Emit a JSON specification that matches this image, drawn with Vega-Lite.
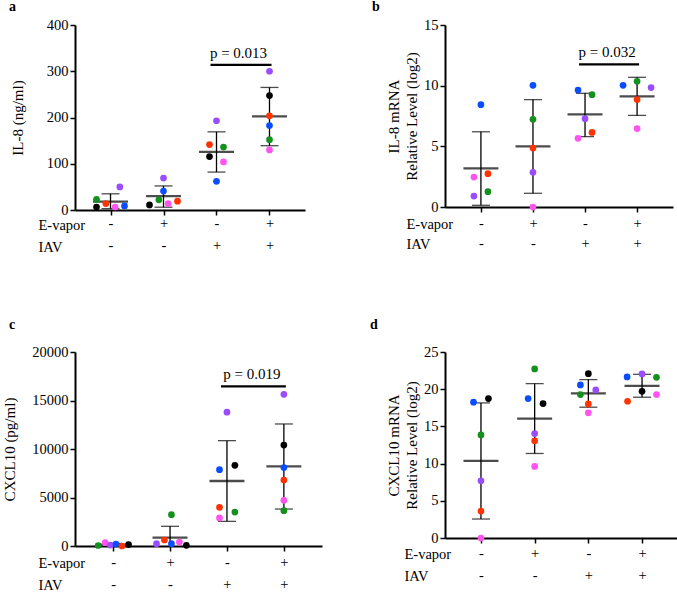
{
  "$schema": "https://vega.github.io/schema/vega-lite/v6.json",
  "padding": {"left": 2, "top": 0, "right": 0, "bottom": 0},
  "background": "white",
  "config": {
    "font": "Liberation Serif",
    "view": {"stroke": null},
    "text": {"font": "Liberation Serif"},
    "axis": {"domainColor": "#000", "domainWidth": 2, "tickColor": "#000", "tickWidth": 1.5, "tickSize": 5, "labelColor": "#000", "titleColor": "#000", "labelFont": "Liberation Serif", "titleFont": "Liberation Serif", "labelFontSize": 14.5, "titleFontSize": 15, "titleFontWeight": "normal", "grid": false, "labelPadding": 2},
    "title": {"font": "Liberation Serif", "fontSize": 14, "fontWeight": "bold", "anchor": "start", "frame": "group", "color": "#000"}
  },
  "datasets": {
    "a_pts": [
      {"g": "-|-", "donor": "black", "v": 6.5, "lane": -3}, {"g": "-|-", "donor": "green", "v": 23, "lane": -3}, {"g": "-|-", "donor": "red", "v": 14, "lane": -1}, {"g": "-|-", "donor": "pink", "v": 6.5, "lane": 1}, {"g": "-|-", "donor": "purple", "v": 50, "lane": 2}, {"g": "-|-", "donor": "blue", "v": 8.7, "lane": 3},
      {"g": "+|-", "donor": "purple", "v": 69, "lane": 0}, {"g": "+|-", "donor": "blue", "v": 41, "lane": 0}, {"g": "+|-", "donor": "green", "v": 22, "lane": -1}, {"g": "+|-", "donor": "pink", "v": 14, "lane": 1}, {"g": "+|-", "donor": "red", "v": 19, "lane": 3}, {"g": "+|-", "donor": "black", "v": 11, "lane": -3},
      {"g": "-|+", "donor": "purple", "v": 193, "lane": 0}, {"g": "-|+", "donor": "red", "v": 141.5, "lane": -1.5}, {"g": "-|+", "donor": "green", "v": 136, "lane": 1.5}, {"g": "-|+", "donor": "black", "v": 115.5, "lane": -1.5}, {"g": "-|+", "donor": "pink", "v": 104, "lane": 1.5}, {"g": "-|+", "donor": "blue", "v": 62, "lane": 0},
      {"g": "+|+", "donor": "purple", "v": 300, "lane": 0}, {"g": "+|+", "donor": "black", "v": 247.6, "lane": 0}, {"g": "+|+", "donor": "red", "v": 203.6, "lane": 0}, {"g": "+|+", "donor": "blue", "v": 182.7, "lane": 0}, {"g": "+|+", "donor": "green", "v": 152, "lane": 0}, {"g": "+|+", "donor": "pink", "v": 130, "lane": 0}
    ],
    "a_stats": [
      {"g": "-|-", "mean": 18, "lo": 3, "hi": 35}, {"g": "+|-", "mean": 30, "lo": 6, "hi": 52}, {"g": "-|+", "mean": 125.5, "lo": 82, "hi": 169}, {"g": "+|+", "mean": 202.5, "lo": 139, "hi": 265}
    ],
    "a_sig": [{"g": "-|+", "g2": "+|+", "y": 314, "label": "p = 0.013"}],
    "b_pts": [
      {"g": "-|-", "donor": "blue", "v": 8.43, "lane": 0}, {"g": "-|-", "donor": "red", "v": 2.75, "lane": 1.5}, {"g": "-|-", "donor": "pink", "v": 2.47, "lane": -1.5}, {"g": "-|-", "donor": "green", "v": 1.26, "lane": 1.5}, {"g": "-|-", "donor": "purple", "v": 0.9, "lane": -1.5},
      {"g": "+|-", "donor": "blue", "v": 10.03, "lane": 0}, {"g": "+|-", "donor": "green", "v": 7.23, "lane": 0}, {"g": "+|-", "donor": "red", "v": 4.86, "lane": 0}, {"g": "+|-", "donor": "purple", "v": 2.86, "lane": 0}, {"g": "+|-", "donor": "pink", "v": 0, "lane": 0},
      {"g": "-|+", "donor": "blue", "v": 9.64, "lane": -1.5}, {"g": "-|+", "donor": "green", "v": 9.26, "lane": 1.5}, {"g": "-|+", "donor": "purple", "v": 7.28, "lane": 0}, {"g": "-|+", "donor": "red", "v": 6.15, "lane": 1.5}, {"g": "-|+", "donor": "pink", "v": 5.66, "lane": -1.5},
      {"g": "+|+", "donor": "blue", "v": 10.03, "lane": -3}, {"g": "+|+", "donor": "green", "v": 10.36, "lane": 0}, {"g": "+|+", "donor": "purple", "v": 9.84, "lane": 3}, {"g": "+|+", "donor": "red", "v": 8.85, "lane": 0}, {"g": "+|+", "donor": "pink", "v": 6.46, "lane": 0}
    ],
    "b_stats": [
      {"g": "-|-", "mean": 3.19, "lo": 0.14, "hi": 6.2}, {"g": "+|-", "mean": 5.0, "lo": 1.13, "hi": 8.85}, {"g": "-|+", "mean": 7.64, "lo": 5.8, "hi": 9.37}, {"g": "+|+", "mean": 9.12, "lo": 7.55, "hi": 10.69}
    ],
    "b_sig": [{"g": "-|+", "g2": "+|+", "y": 11.76, "label": "p = 0.032"}],
    "c_pts": [
      {"g": "-|-", "donor": "green", "v": 50, "lane": -3.2}, {"g": "-|-", "donor": "pink", "v": 340, "lane": -1.7}, {"g": "-|-", "donor": "purple", "v": 100, "lane": -0.6}, {"g": "-|-", "donor": "blue", "v": 200, "lane": 0.6}, {"g": "-|-", "donor": "red", "v": 0, "lane": 1.9}, {"g": "-|-", "donor": "black", "v": 150, "lane": 3.3},
      {"g": "+|-", "donor": "green", "v": 3230, "lane": 0.3}, {"g": "+|-", "donor": "red", "v": 620, "lane": -1.2}, {"g": "+|-", "donor": "purple", "v": 240, "lane": -2.9}, {"g": "+|-", "donor": "blue", "v": 240, "lane": 0.3}, {"g": "+|-", "donor": "pink", "v": 410, "lane": 2}, {"g": "+|-", "donor": "black", "v": 70, "lane": 3.5},
      {"g": "-|+", "donor": "purple", "v": 13800, "lane": 0}, {"g": "-|+", "donor": "black", "v": 8320, "lane": 1.7}, {"g": "-|+", "donor": "blue", "v": 7870, "lane": -1.6}, {"g": "-|+", "donor": "red", "v": 3990, "lane": -1.6}, {"g": "-|+", "donor": "green", "v": 3500, "lane": 1.7}, {"g": "-|+", "donor": "pink", "v": 2890, "lane": -1.6},
      {"g": "+|+", "donor": "purple", "v": 15640, "lane": 0}, {"g": "+|+", "donor": "black", "v": 10410, "lane": 0}, {"g": "+|+", "donor": "blue", "v": 8080, "lane": 0}, {"g": "+|+", "donor": "red", "v": 6800, "lane": 0}, {"g": "+|+", "donor": "pink", "v": 4710, "lane": 0}, {"g": "+|+", "donor": "green", "v": 3640, "lane": 0}
    ],
    "c_stats": [
      {"g": "-|-", "mean": 140, "lo": 20, "hi": 260}, {"g": "+|-", "mean": 860, "lo": -310, "hi": 2030}, {"g": "-|+", "mean": 6700, "lo": 2540, "hi": 10860}, {"g": "+|+", "mean": 8210, "lo": 3810, "hi": 12580}
    ],
    "c_sig": [{"g": "-|+", "g2": "+|+", "y": 16460, "label": "p = 0.019"}],
    "d_pts": [
      {"g": "-|-", "donor": "black", "v": 18.74, "lane": 1.6}, {"g": "-|-", "donor": "blue", "v": 18.25, "lane": -1.6}, {"g": "-|-", "donor": "green", "v": 13.86, "lane": 0}, {"g": "-|-", "donor": "purple", "v": 7.69, "lane": 0}, {"g": "-|-", "donor": "red", "v": 3.62, "lane": 0}, {"g": "-|-", "donor": "pink", "v": 0, "lane": 0},
      {"g": "+|-", "donor": "green", "v": 22.72, "lane": 0}, {"g": "+|-", "donor": "blue", "v": 18.74, "lane": -1.4}, {"g": "+|-", "donor": "black", "v": 18.07, "lane": 1.8}, {"g": "+|-", "donor": "purple", "v": 14.04, "lane": 0}, {"g": "+|-", "donor": "red", "v": 13.06, "lane": 0}, {"g": "+|-", "donor": "pink", "v": 9.62, "lane": 0},
      {"g": "-|+", "donor": "black", "v": 22.09, "lane": 0}, {"g": "-|+", "donor": "blue", "v": 20.57, "lane": -1.7}, {"g": "-|+", "donor": "purple", "v": 19.9, "lane": 1.6}, {"g": "-|+", "donor": "green", "v": 19.28, "lane": -1.7}, {"g": "-|+", "donor": "red", "v": 18.02, "lane": 0}, {"g": "-|+", "donor": "pink", "v": 16.82, "lane": 0},
      {"g": "+|+", "donor": "blue", "v": 21.65, "lane": -3.2}, {"g": "+|+", "donor": "purple", "v": 22.05, "lane": 0}, {"g": "+|+", "donor": "green", "v": 21.6, "lane": 3.1}, {"g": "+|+", "donor": "black", "v": 19.72, "lane": 0}, {"g": "+|+", "donor": "red", "v": 18.38, "lane": -3.1}, {"g": "+|+", "donor": "pink", "v": 19.28, "lane": 3.1}
    ],
    "d_stats": [
      {"g": "-|-", "mean": 10.36, "lo": 2.55, "hi": 18.16}, {"g": "+|-", "mean": 16.04, "lo": 11.36, "hi": 20.75}, {"g": "-|+", "mean": 19.45, "lo": 17.58, "hi": 21.29}, {"g": "+|+", "mean": 20.45, "lo": 18.92, "hi": 22.0}
    ]
  },
  "columns": 2,
  "bounds": "flush",
  "spacing": {"row": 142, "column": 123},
  "concat": [
    {
      "width": 230, "height": 185,
      "title": {"text": "a", "dx": -66, "offset": 3},
      "encoding": {
        "x": {"field": "g", "type": "nominal", "scale": {"type": "point", "domain": ["-|-", "+|-", "-|+", "+|+"], "padding": 0.67},
              "axis": {"title": ["E-vapor", "IAV"], "titleAlign": "left", "titleX": -37, "titleY": 8, "titleBaseline": "top", "titleLineHeight": 22, "titleFontSize": 14.5, "labelExpr": "split(datum.value, '|')", "labelLineHeight": 22, "labelPadding": 1, "labelAngle": 0}}
      },
      "layer": [
        {"data": {"name": "a_stats"}, "mark": {"type": "rule", "color": "#000", "strokeWidth": 1.3},
         "encoding": {
           "y": {"field": "lo", "type": "quantitative", "scale": {"domain": [0, 400], "nice": false}, "axis": {"title": "IL-8 (ng/ml)", "values": [0, 100, 200, 300, 400], "titlePadding": 21}},
           "y2": {"field": "hi"}}},
        {"data": {"name": "a_stats"}, "mark": {"type": "tick", "orient": "horizontal", "color": "#000", "size": 18, "thickness": 1.3},
         "encoding": {"y": {"field": "lo", "type": "quantitative", "scale": {"domain": [0, 400], "nice": false}, "axis": {"title": "IL-8 (ng/ml)", "values": [0, 100, 200, 300, 400], "titlePadding": 21}}}},
        {"data": {"name": "a_stats"}, "mark": {"type": "tick", "orient": "horizontal", "color": "#000", "size": 18, "thickness": 1.3},
         "encoding": {"y": {"field": "hi", "type": "quantitative", "scale": {"domain": [0, 400], "nice": false}, "axis": {"title": "IL-8 (ng/ml)", "values": [0, 100, 200, 300, 400], "titlePadding": 21}}}},
        {"data": {"name": "a_stats"}, "mark": {"type": "tick", "orient": "horizontal", "color": "#000", "size": 35, "thickness": 2.3},
         "encoding": {"y": {"field": "mean", "type": "quantitative", "scale": {"domain": [0, 400], "nice": false}, "axis": {"title": "IL-8 (ng/ml)", "values": [0, 100, 200, 300, 400], "titlePadding": 21}}}},
        {"data": {"name": "a_sig"}, "mark": {"type": "rule", "color": "#000", "strokeWidth": 2.3, "xOffset": -6, "x2Offset": 2},
         "encoding": {"x2": {"field": "g2"}, "y": {"field": "y", "type": "quantitative", "scale": {"domain": [0, 400], "nice": false}, "axis": {"title": "IL-8 (ng/ml)", "values": [0, 100, 200, 300, 400], "titlePadding": 21}}}},
        {"data": {"name": "a_sig"}, "mark": {"type": "text", "font": "Liberation Serif", "fontSize": 15, "dx": 22, "dy": -7, "baseline": "alphabetic", "align": "center", "color": "#000"},
         "encoding": {"y": {"field": "y", "type": "quantitative", "scale": {"domain": [0, 400], "nice": false}, "axis": {"title": "IL-8 (ng/ml)", "values": [0, 100, 200, 300, 400], "titlePadding": 21}}, "text": {"field": "label"}}},
        {"data": {"name": "a_pts"}, "mark": {"type": "circle", "size": 45, "opacity": 1},
         "encoding": {
           "xOffset": {"field": "lane", "type": "quantitative", "scale": {"domain": [-3, 3], "range": [-14, 14]}},
           "y": {"field": "v", "type": "quantitative", "scale": {"domain": [0, 400], "nice": false}, "axis": {"title": "IL-8 (ng/ml)", "values": [0, 100, 200, 300, 400], "titlePadding": 21}},
           "color": {"field": "donor", "type": "nominal", "scale": {"domain": ["black", "green", "red", "pink", "purple", "blue"], "range": ["#000000", "#14901e", "#ff3300", "#ff55ee", "#9a4dff", "#0a4cff"]}, "legend": null}}}
      ]
    },
    {
      "width": 228, "height": 182,
      "title": {"text": "b", "dx": -73, "offset": 3},
      "encoding": {
        "x": {"field": "g", "type": "nominal", "scale": {"type": "point", "domain": ["-|-", "+|-", "-|+", "+|+"], "padding": 0.69},
              "axis": {"title": ["E-vapor", "IAV"], "titleAlign": "left", "titleX": -39, "titleY": 10, "titleBaseline": "top", "titleLineHeight": 20, "titleFontSize": 14.5, "labelExpr": "split(datum.value, '|')", "labelLineHeight": 20, "labelPadding": 4, "labelAngle": 0}}
      },
      "layer": [
        {"data": {"name": "b_stats"}, "mark": {"type": "rule", "color": "#000", "strokeWidth": 1.3},
         "encoding": {
           "y": {"field": "lo", "type": "quantitative", "scale": {"domain": [0, 15], "nice": false}, "axis": {"title": ["IL-8 mRNA", "Relative Level (log2)"], "titleLineHeight": 18, "values": [0, 5, 10, 15], "titlePadding": 4}},
           "y2": {"field": "hi"}}},
        {"data": {"name": "b_stats"}, "mark": {"type": "tick", "orient": "horizontal", "color": "#000", "size": 18, "thickness": 1.3},
         "encoding": {"y": {"field": "lo", "type": "quantitative", "scale": {"domain": [0, 15], "nice": false}, "axis": {"title": ["IL-8 mRNA", "Relative Level (log2)"], "titleLineHeight": 18, "values": [0, 5, 10, 15], "titlePadding": 4}}}},
        {"data": {"name": "b_stats"}, "mark": {"type": "tick", "orient": "horizontal", "color": "#000", "size": 18, "thickness": 1.3},
         "encoding": {"y": {"field": "hi", "type": "quantitative", "scale": {"domain": [0, 15], "nice": false}, "axis": {"title": ["IL-8 mRNA", "Relative Level (log2)"], "titleLineHeight": 18, "values": [0, 5, 10, 15], "titlePadding": 4}}}},
        {"data": {"name": "b_stats"}, "mark": {"type": "tick", "orient": "horizontal", "color": "#000", "size": 35, "thickness": 2.3},
         "encoding": {"y": {"field": "mean", "type": "quantitative", "scale": {"domain": [0, 15], "nice": false}, "axis": {"title": ["IL-8 mRNA", "Relative Level (log2)"], "titleLineHeight": 18, "values": [0, 5, 10, 15], "titlePadding": 4}}}},
        {"data": {"name": "b_sig"}, "mark": {"type": "rule", "color": "#000", "strokeWidth": 2.3, "xOffset": -6, "x2Offset": 2},
         "encoding": {"x2": {"field": "g2"}, "y": {"field": "y", "type": "quantitative", "scale": {"domain": [0, 15], "nice": false}, "axis": {"title": ["IL-8 mRNA", "Relative Level (log2)"], "titleLineHeight": 18, "values": [0, 5, 10, 15], "titlePadding": 4}}}},
        {"data": {"name": "b_sig"}, "mark": {"type": "text", "font": "Liberation Serif", "fontSize": 15, "dx": 22, "dy": -7, "baseline": "alphabetic", "align": "center", "color": "#000"},
         "encoding": {"y": {"field": "y", "type": "quantitative", "scale": {"domain": [0, 15], "nice": false}, "axis": {"title": ["IL-8 mRNA", "Relative Level (log2)"], "titleLineHeight": 18, "values": [0, 5, 10, 15], "titlePadding": 4}}, "text": {"field": "label"}}},
        {"data": {"name": "b_pts"}, "mark": {"type": "circle", "size": 45, "opacity": 1},
         "encoding": {
           "xOffset": {"field": "lane", "type": "quantitative", "scale": {"domain": [-3, 3], "range": [-14, 14]}},
           "y": {"field": "v", "type": "quantitative", "scale": {"domain": [0, 15], "nice": false}, "axis": {"title": ["IL-8 mRNA", "Relative Level (log2)"], "titleLineHeight": 18, "values": [0, 5, 10, 15], "titlePadding": 4}},
           "color": {"field": "donor", "type": "nominal", "scale": {"domain": ["black", "green", "red", "pink", "purple", "blue"], "range": ["#000000", "#14901e", "#ff3300", "#ff55ee", "#9a4dff", "#0a4cff"]}, "legend": null}}}
      ]
    },
    {
      "width": 247, "height": 194,
      "title": {"text": "c", "dx": -66, "offset": 12},
      "encoding": {
        "x": {"field": "g", "type": "nominal", "scale": {"type": "point", "domain": ["-|-", "+|-", "-|+", "+|+"], "padding": 0.67},
              "axis": {"title": ["E-vapor", "IAV"], "titleAlign": "left", "titleX": -37, "titleY": 10, "titleBaseline": "top", "titleLineHeight": 22, "titleFontSize": 14.5, "labelExpr": "split(datum.value, '|')", "labelLineHeight": 22, "labelPadding": 4, "labelAngle": 0}}
      },
      "layer": [
        {"data": {"name": "c_stats"}, "mark": {"type": "rule", "color": "#000", "strokeWidth": 1.3, "clip": true},
         "encoding": {
           "y": {"field": "lo", "type": "quantitative", "scale": {"domain": [0, 20000], "nice": false}, "axis": {"title": "CXCL10 (pg/ml)", "values": [0, 5000, 10000, 15000, 20000], "format": "d", "titlePadding": 14}},
           "y2": {"field": "hi"}}},
        {"data": {"name": "c_stats"}, "mark": {"type": "tick", "orient": "horizontal", "color": "#000", "size": 18, "thickness": 1.3, "clip": true},
         "encoding": {"y": {"field": "lo", "type": "quantitative", "scale": {"domain": [0, 20000], "nice": false}, "axis": {"title": "CXCL10 (pg/ml)", "values": [0, 5000, 10000, 15000, 20000], "format": "d", "titlePadding": 14}}}},
        {"data": {"name": "c_stats"}, "mark": {"type": "tick", "orient": "horizontal", "color": "#000", "size": 18, "thickness": 1.3},
         "encoding": {"y": {"field": "hi", "type": "quantitative", "scale": {"domain": [0, 20000], "nice": false}, "axis": {"title": "CXCL10 (pg/ml)", "values": [0, 5000, 10000, 15000, 20000], "format": "d", "titlePadding": 14}}}},
        {"data": {"name": "c_stats"}, "mark": {"type": "tick", "orient": "horizontal", "color": "#000", "size": 35, "thickness": 2.3},
         "encoding": {"y": {"field": "mean", "type": "quantitative", "scale": {"domain": [0, 20000], "nice": false}, "axis": {"title": "CXCL10 (pg/ml)", "values": [0, 5000, 10000, 15000, 20000], "format": "d", "titlePadding": 14}}}},
        {"data": {"name": "c_sig"}, "mark": {"type": "rule", "color": "#000", "strokeWidth": 2.3, "xOffset": -6, "x2Offset": 2},
         "encoding": {"x2": {"field": "g2"}, "y": {"field": "y", "type": "quantitative", "scale": {"domain": [0, 20000], "nice": false}, "axis": {"title": "CXCL10 (pg/ml)", "values": [0, 5000, 10000, 15000, 20000], "format": "d", "titlePadding": 14}}}},
        {"data": {"name": "c_sig"}, "mark": {"type": "text", "font": "Liberation Serif", "fontSize": 15, "dx": 25, "dy": -7, "baseline": "alphabetic", "align": "center", "color": "#000"},
         "encoding": {"y": {"field": "y", "type": "quantitative", "scale": {"domain": [0, 20000], "nice": false}, "axis": {"title": "CXCL10 (pg/ml)", "values": [0, 5000, 10000, 15000, 20000], "format": "d", "titlePadding": 14}}, "text": {"field": "label"}}},
        {"data": {"name": "c_pts"}, "mark": {"type": "circle", "size": 45, "opacity": 1},
         "encoding": {
           "xOffset": {"field": "lane", "type": "quantitative", "scale": {"domain": [-3, 3], "range": [-14, 14]}},
           "y": {"field": "v", "type": "quantitative", "scale": {"domain": [0, 20000], "nice": false}, "axis": {"title": "CXCL10 (pg/ml)", "values": [0, 5000, 10000, 15000, 20000], "format": "d", "titlePadding": 14}},
           "color": {"field": "donor", "type": "nominal", "scale": {"domain": ["black", "green", "red", "pink", "purple", "blue"], "range": ["#000000", "#14901e", "#ff3300", "#ff55ee", "#9a4dff", "#0a4cff"]}, "legend": null}}}
      ]
    },
    {
      "width": 233, "height": 186,
      "title": {"text": "d", "dx": -75, "offset": 12},
      "encoding": {
        "x": {"field": "g", "type": "nominal", "scale": {"type": "point", "domain": ["-|-", "+|-", "-|+", "+|+"], "padding": 0.67},
              "axis": {"title": ["E-vapor", "IAV"], "titleAlign": "left", "titleX": -41, "titleY": 9, "titleBaseline": "top", "titleLineHeight": 22, "titleFontSize": 14.5, "labelExpr": "split(datum.value, '|')", "labelLineHeight": 22, "labelPadding": 3, "labelAngle": 0}}
      },
      "layer": [
        {"data": {"name": "d_stats"}, "mark": {"type": "rule", "color": "#000", "strokeWidth": 1.3},
         "encoding": {
           "y": {"field": "lo", "type": "quantitative", "scale": {"domain": [0, 25], "nice": false}, "axis": {"title": ["CXCL10 mRNA", "Relative Level (log2)"], "titleLineHeight": 18, "values": [0, 5, 10, 15, 20, 25], "titlePadding": 4}},
           "y2": {"field": "hi"}}},
        {"data": {"name": "d_stats"}, "mark": {"type": "tick", "orient": "horizontal", "color": "#000", "size": 18, "thickness": 1.3},
         "encoding": {"y": {"field": "lo", "type": "quantitative", "scale": {"domain": [0, 25], "nice": false}, "axis": {"title": ["CXCL10 mRNA", "Relative Level (log2)"], "titleLineHeight": 18, "values": [0, 5, 10, 15, 20, 25], "titlePadding": 4}}}},
        {"data": {"name": "d_stats"}, "mark": {"type": "tick", "orient": "horizontal", "color": "#000", "size": 18, "thickness": 1.3},
         "encoding": {"y": {"field": "hi", "type": "quantitative", "scale": {"domain": [0, 25], "nice": false}, "axis": {"title": ["CXCL10 mRNA", "Relative Level (log2)"], "titleLineHeight": 18, "values": [0, 5, 10, 15, 20, 25], "titlePadding": 4}}}},
        {"data": {"name": "d_stats"}, "mark": {"type": "tick", "orient": "horizontal", "color": "#000", "size": 35, "thickness": 2.3},
         "encoding": {"y": {"field": "mean", "type": "quantitative", "scale": {"domain": [0, 25], "nice": false}, "axis": {"title": ["CXCL10 mRNA", "Relative Level (log2)"], "titleLineHeight": 18, "values": [0, 5, 10, 15, 20, 25], "titlePadding": 4}}}},
        {"data": {"name": "d_pts"}, "mark": {"type": "circle", "size": 45, "opacity": 1},
         "encoding": {
           "xOffset": {"field": "lane", "type": "quantitative", "scale": {"domain": [-3, 3], "range": [-14, 14]}},
           "y": {"field": "v", "type": "quantitative", "scale": {"domain": [0, 25], "nice": false}, "axis": {"title": ["CXCL10 mRNA", "Relative Level (log2)"], "titleLineHeight": 18, "values": [0, 5, 10, 15, 20, 25], "titlePadding": 4}},
           "color": {"field": "donor", "type": "nominal", "scale": {"domain": ["black", "green", "red", "pink", "purple", "blue"], "range": ["#000000", "#14901e", "#ff3300", "#ff55ee", "#9a4dff", "#0a4cff"]}, "legend": null}}}
      ]
    }
  ]
}
